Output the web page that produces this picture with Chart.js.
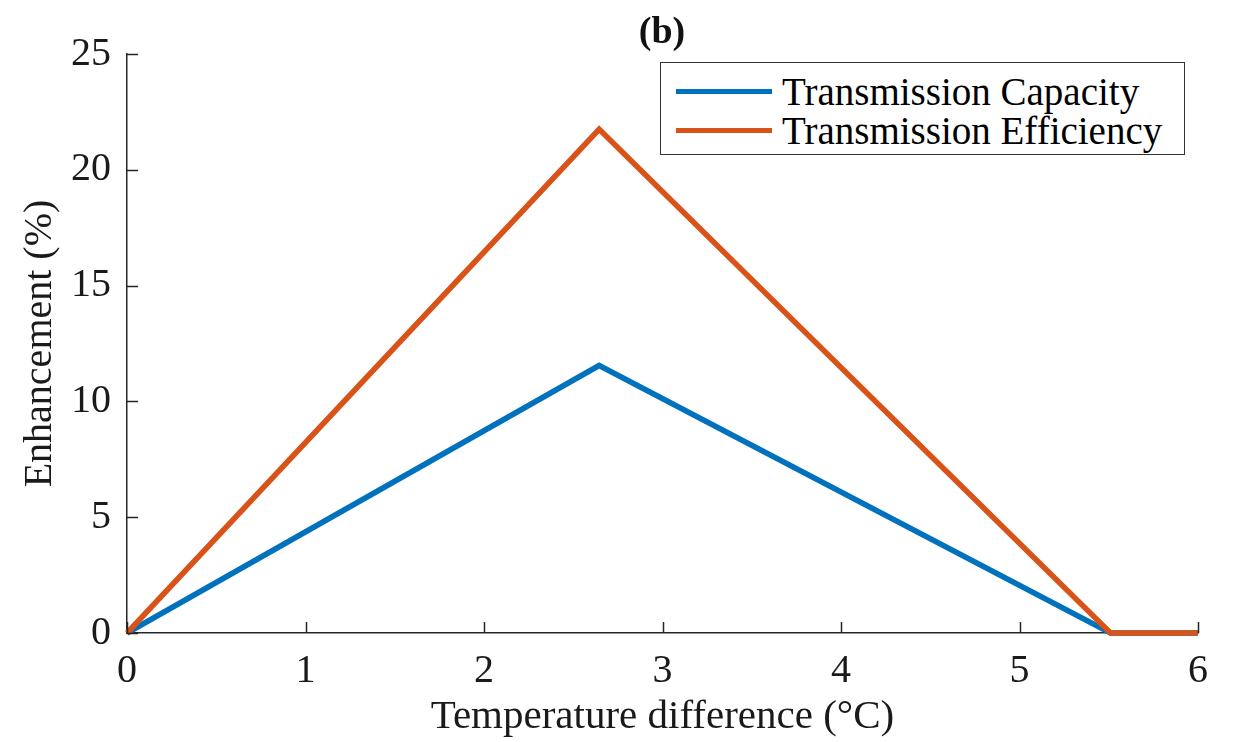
<!DOCTYPE html>
<html>
<head>
<meta charset="utf-8">
<script src="https://cdn.jsdelivr.net/npm/chart.js@4"></script>
<style>
  html, body { margin: 0; padding: 0; background: #fff; }
  #wrap { position: relative; width: 1235px; height: 742px; }
  #title {
    position: absolute; left: 562px; width: 200px; top: 8px; text-align: center;
    font-family: "Liberation Serif", "DejaVu Serif", serif; font-size: 38px; font-weight: bold; color: #111;
  }
  #legend {
    position: absolute; left: 660px; top: 62px; width: 523px; height: 91px;
    border: 1.5px solid #333; background: #fff;
    font-family: "Liberation Serif", "DejaVu Serif", serif; font-size: 39px; color: #000;
  }
  .row { position: absolute; left: 15px; height: 40px; display: flex; align-items: center; white-space: nowrap; }
  .swatch { width: 96px; height: 5px; margin-right: 10px; }
</style>
</head>
<body>
<div id="wrap">
  <canvas id="c" width="1235" height="742"></canvas>
  <div id="title">(b)</div>
  <div id="legend">
    <div class="row" style="top:8px"><span class="swatch" style="background:#0072BD"></span>Transmission Capacity</div>
    <div class="row" style="top:47px"><span class="swatch" style="background:#D95319"></span>Transmission Efficiency</div>
  </div>
</div>
<script>
// breakpoints
const tempDiff = [0, 2.645, 5.51, 6];
const capacity = [0, 11.55, 0, 0];
const efficiency = [0, 21.75, 0, 0];
const xTicks = [0, 1, 2, 3, 4, 5, 6];
const yTicks = [0, 5, 10, 15, 20, 25];

const serif = '"Liberation Serif", "DejaVu Serif", serif';
const axisColor = '#262626';

// MATLAB-style ticks pointing into the plot area
const inwardTicks = {
    id: 'inwardTicks',
    afterDraw(chart) {
        const { ctx, chartArea, scales } = chart;
        ctx.save();
        ctx.strokeStyle = axisColor;
        ctx.lineWidth = 1.5;
        ctx.beginPath();
        xTicks.forEach(v => {
            const px = Math.round(scales.x.getPixelForValue(v)) + 0.5;
            ctx.moveTo(px, chartArea.bottom);
            ctx.lineTo(px, chartArea.bottom - 11);
        });
        yTicks.forEach(v => {
            const py = Math.round(scales.y.getPixelForValue(v)) + 0.5;
            ctx.moveTo(chartArea.left, py);
            ctx.lineTo(chartArea.left + 11, py);
        });
        ctx.stroke();
        ctx.restore();
    }
};

const toPoints = ys => tempDiff.map((x, i) => ({ x: x, y: ys[i] }));

new Chart(document.getElementById('c'), {
    type: 'line',
    data: {
        datasets: [
            {
                label: 'Transmission Capacity',
                data: toPoints(capacity),
                borderColor: '#0072BD',
                borderWidth: 5.5,
                pointRadius: 0,
                tension: 0,
                order: 1,
            },
            {
                label: 'Transmission Efficiency',
                data: toPoints(efficiency),
                borderColor: '#D95319',
                borderWidth: 5.5,
                pointRadius: 0,
                tension: 0,
                order: 0,
            },
        ],
    },
    options: {
        responsive: false,
        animation: false,
        clip: false,
        layout: { padding: { left: 0, right: 37, top: 54, bottom: 0 } },
        plugins: {
            legend: { display: false },
            tooltip: { enabled: false },
        },
        scales: {
            x: {
                type: 'linear',
                min: 0,
                max: 6,
                afterFit(s) { s.height = 109; },
                afterBuildTicks(s) { s.ticks = xTicks.map(v => ({ value: v })); },
                grid: { display: false },
                border: { display: true, color: axisColor, width: 1.5 },
                ticks: { color: '#1a1a1a', font: { family: serif, size: 40 }, padding: 6 },
                title: {
                    display: true,
                    text: 'Temperature difference (°C)',
                    color: '#1a1a1a',
                    font: { family: serif, size: 41 },
                    padding: { top: 0, bottom: 0 },
                },
            },
            y: {
                min: 0,
                max: 25,
                afterFit(s) { s.width = 127; },
                afterBuildTicks(s) { s.ticks = yTicks.map(v => ({ value: v })); },
                grid: { display: false },
                border: { display: true, color: axisColor, width: 1.5 },
                ticks: { color: '#1a1a1a', font: { family: serif, size: 40 }, padding: 8 },
                title: {
                    display: true,
                    text: 'Enhancement (%)',
                    color: '#1a1a1a',
                    font: { family: serif, size: 40 },
                    padding: { top: 16, bottom: 0 },
                },
            },
        },
    },
    plugins: [inwardTicks],
});
</script>
</body>
</html>
